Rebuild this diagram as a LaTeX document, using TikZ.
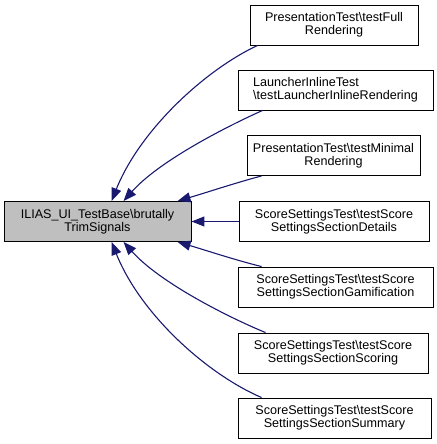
\documentclass[tikz,border=0pt]{standalone}
\usepackage{fontspec}
\setmainfont{Liberation Sans}
\usetikzlibrary{arrows.meta}
\definecolor{edgeblue}{HTML}{191970}
\definecolor{hlfill}{HTML}{BFBFBF}
\begin{document}
\begin{tikzpicture}[x=1pt,y=1pt,
  box/.style={draw=black, line width=0.9pt, fill=white, inner sep=0pt, minimum height=40pt,
    align=center, font=\fontsize{12.6}{13.4}\selectfont},
  hl/.style={box, fill=hlfill},
  edge/.style={draw=edgeblue, line width=1.1pt, -{Triangle[length=13pt,width=10pt]}}]
\useasboundingbox (0,0) rectangle (436,-444);
\node[hl, minimum width=187pt] (l) at (97.5,-221.5) {ILIAS\_UI\_TestBase\textbackslash brutally\\TrimSignals};
\node[box, minimum width=168pt] (r1) at (334,-25) {PresentationTest\textbackslash testFull\\Rendering};
\node[box, minimum width=195pt, align=left] (r2) at (335.5,-90) {LauncherInlineTest\\\textbackslash testLauncherInlineRendering};
\node[box, minimum width=173pt] (r3) at (333.5,-155.5) {PresentationTest\textbackslash testMinimal\\Rendering};
\node[box, minimum width=190pt] (r4) at (334,-221.5) {ScoreSettingsTest\textbackslash testScore\\SettingsSectionDetails};
\node[box, minimum width=195pt] (r5) at (335.5,-287) {ScoreSettingsTest\textbackslash testScore\\SettingsSectionGamification};
\node[box, minimum width=190pt] (r6) at (333,-353) {ScoreSettingsTest\textbackslash testScore\\SettingsSectionScoring};
\node[box, minimum width=193pt] (r7) at (334.5,-418) {ScoreSettingsTest\textbackslash testScore\\SettingsSectionSummary};

\draw[edge] ([xshift=8pt]r1.south west) .. controls (205,-70) and (140,-130) .. ([xshift=108pt]l.north west);
\draw[edge] ([xshift=25pt]r2.south west) .. controls (230,-125) and (160,-160) .. ([xshift=120pt]l.north west);
\draw[edge] ([xshift=15pt]r3.south west) .. controls (235,-183) and (205,-193) .. ([xshift=174pt]l.north west);
\draw[edge] (r4) -- (l);
\draw[edge] ([xshift=24pt]r5.north west) .. controls (235,-260) and (205,-250) .. ([xshift=174pt]l.south west);
\draw[edge] ([xshift=28pt]r6.north west) .. controls (230,-318) and (160,-283) .. ([xshift=120pt]l.south west);
\draw[edge] ([xshift=24pt]r7.north west) .. controls (205,-373) and (140,-313) .. ([xshift=108pt]l.south west);
\end{tikzpicture}
\end{document}
